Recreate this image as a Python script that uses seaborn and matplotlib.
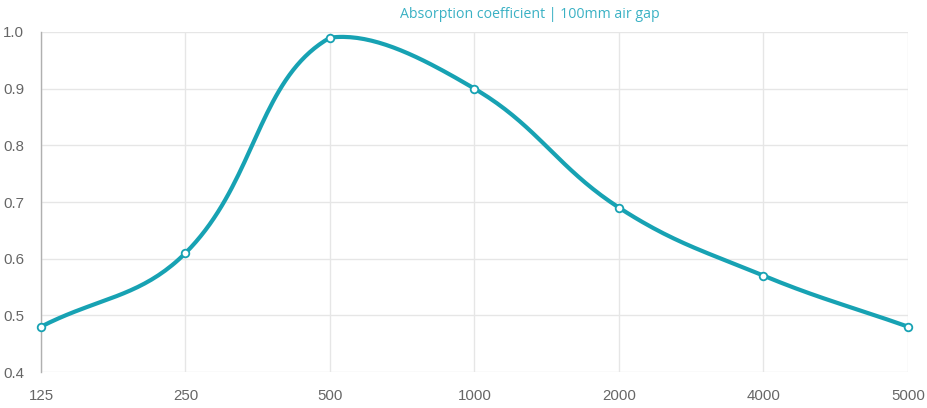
import numpy as np
import pandas as pd
import matplotlib
matplotlib.use("Agg")
import matplotlib.pyplot as plt
import seaborn as sns

# data
frequencies = ["125", "250", "500", "1000", "2000", "4000", "5000"]
absorption = [0.48, 0.61, 0.99, 0.90, 0.69, 0.57, 0.48]
title = "Absorption coefficient | 100mm air gap"

line_color = "#17a2b3"
grid_color = "#e6e6e6"
label_color = "#666666"

W, H = 928, 408
left, right, top, bottom = 41, 908, 32, 372
y_min, y_max = 0.4, 1.0


def spline_curve(xs, ys, sx, sy, tension=0.4, n=40):
    """Chart.js-style bezier smoothing; control points in pixel space, capped to the chart area."""
    px = np.asarray(xs, float) * sx
    py = np.asarray(ys, float) * sy
    k = len(px)
    cp_prev = np.zeros((k, 2))
    cp_next = np.zeros((k, 2))
    for i in range(k):
        a = (px[max(i - 1, 0)], py[max(i - 1, 0)])
        b = (px[i], py[i])
        c = (px[min(i + 1, k - 1)], py[min(i + 1, k - 1)])
        d01 = np.hypot(b[0] - a[0], b[1] - a[1])
        d12 = np.hypot(c[0] - b[0], c[1] - b[1])
        tot = d01 + d12
        s01 = d01 / tot if tot else 0
        s12 = d12 / tot if tot else 0
        fa, fb = tension * s01, tension * s12
        cp_prev[i] = (b[0] - fa * (c[0] - a[0]), b[1] - fa * (c[1] - a[1]))
        cp_next[i] = (b[0] + fb * (c[0] - a[0]), b[1] + fb * (c[1] - a[1]))
    lo, hi = y_min * sy, y_max * sy
    cp_prev[:, 1] = np.clip(cp_prev[:, 1], lo, hi)
    cp_next[:, 1] = np.clip(cp_next[:, 1], lo, hi)
    cp_prev[:, 0] = np.clip(cp_prev[:, 0], px[0], px[-1])
    cp_next[:, 0] = np.clip(cp_next[:, 0], px[0], px[-1])
    out_x, out_y = [], []
    t = np.linspace(0, 1, n)
    for i in range(k - 1):
        p0 = np.array([px[i], py[i]])
        p1 = cp_next[i]
        p2 = cp_prev[i + 1]
        p3 = np.array([px[i + 1], py[i + 1]])
        pts = ((1 - t) ** 3)[:, None] * p0 + (3 * (1 - t) ** 2 * t)[:, None] * p1 \
            + (3 * (1 - t) * t ** 2)[:, None] * p2 + (t ** 3)[:, None] * p3
        out_x.extend(pts[:, 0] / sx)
        out_y.extend(pts[:, 1] / sy)
    return np.array(out_x), np.array(out_y)


sns.set_style("white")
plt.rcParams["font.family"] = ["Liberation Sans", "DejaVu Sans"]

fig = plt.figure(figsize=(W / 100, H / 100), dpi=100)
ax = fig.add_axes([left / W, 1 - bottom / H, (right - left) / W, (bottom - top) / H])

idx = np.arange(len(frequencies))
sx = (right - left) / (len(frequencies) - 1)
sy = (bottom - top) / (y_max - y_min)
cx, cy = spline_curve(idx, absorption, sx, sy)
curve = pd.DataFrame({"x": cx, "y": cy})
points = pd.DataFrame({"x": idx, "y": absorption})

sns.lineplot(data=curve, x="x", y="y", sort=False, color=line_color, lw=3,
             ax=ax, zorder=3, clip_on=False)
sns.scatterplot(data=points, x="x", y="y", s=30, color="white",
                edgecolor=line_color, linewidth=1.3, ax=ax, zorder=4, clip_on=False)

ax.set_xlim(0, len(frequencies) - 1)
ax.set_ylim(y_min, y_max)
ax.set_xticks(idx)
ax.set_xticklabels(frequencies)
yt = np.round(np.arange(y_min, y_max + 0.01, 0.1), 1)
ax.set_yticks(yt)
ax.set_yticklabels([f"{v:.1f}" for v in yt])
ax.set_xlabel("")
ax.set_ylabel("")

ax.grid(True, color=grid_color, lw=1)
for side in ["top", "right", "bottom"]:
    ax.spines[side].set_visible(False)
ax.spines["left"].set_color("#b0b0b0")
ax.spines["left"].set_linewidth(1)
ax.tick_params(axis="both", length=8, width=1, color=grid_color,
               labelcolor=label_color, labelsize=10.8, pad=4)

fig.text(530 / W, 1 - 14 / H, title, ha="center", va="center",
         color="#3ab1c4", fontsize=10.2, family=["Open Sans", "DejaVu Sans"])

fig.savefig("out.png", dpi=100)
